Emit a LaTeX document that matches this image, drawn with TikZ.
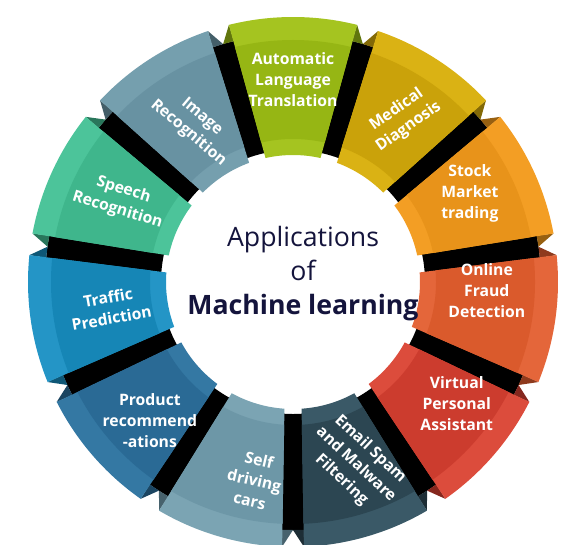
\documentclass[tikz,border=0pt]{standalone}
\usepackage{fontspec}
\setmainfont{Open Sans}
\usepackage{tikz}
\usetikzlibrary{positioning}

% tile colours: light rim / darker middle
\definecolor{autoL}{RGB}{165,196,32}
\definecolor{autoD}{RGB}{150,182,20}
\definecolor{medL}{RGB}{218,178,20}
\definecolor{medD}{RGB}{202,162,10}
\definecolor{stockL}{RGB}{243,158,36}
\definecolor{stockD}{RGB}{232,147,26}
\definecolor{fraudL}{RGB}{228,102,58}
\definecolor{fraudD}{RGB}{218,90,44}
\definecolor{virtL}{RGB}{220,76,60}
\definecolor{virtD}{RGB}{204,60,46}
\definecolor{mailL}{RGB}{58,89,103}
\definecolor{mailD}{RGB}{44,70,82}
\definecolor{selfL}{RGB}{123,164,179}
\definecolor{selfD}{RGB}{109,151,167}
\definecolor{prodL}{RGB}{52,120,163}
\definecolor{prodD}{RGB}{42,106,149}
\definecolor{trafL}{RGB}{36,149,198}
\definecolor{trafD}{RGB}{22,134,182}
\definecolor{speechL}{RGB}{76,196,154}
\definecolor{speechD}{RGB}{63,182,140}
\definecolor{imgL}{RGB}{117,159,174}
\definecolor{imgD}{RGB}{104,146,162}
\definecolor{navy}{RGB}{20,20,60}

\begin{document}
\begin{tikzpicture}[
    x=0.75pt, y=0.75pt,
    segtext/.style={text=white, align=center, inner sep=1pt, font=\bfseries\fontsize{11.8}{15.8}\selectfont},
    title/.style={text=navy, align=center, font=\fontsize{20}{25.5}\selectfont},
]
    \useasboundingbox (0,0) rectangle (580,544);
    \begin{scope}[shift={(293,262)}]
    % black ribbon behind the tiles
    \fill[black, even odd rule] (0,0) circle[radius=248] (0,0) circle[radius=132];
    % tiles
    \foreach \ang/\lt/\dk in {90/autoL/autoD, 57.27/medL/medD, 24.55/stockL/stockD,
        -8.18/fraudL/fraudD, -40.91/virtL/virtD, -73.64/mailL/mailD,
        -106.36/selfL/selfD, -139.09/prodL/prodD, -171.82/trafL/trafD,
        155.45/speechL/speechD, 122.73/imgL/imgD}{
        \fill[\dk!65!black] (\ang+14:265) -- (\ang+13.8:248) -- (\ang+16.36:248) -- cycle;
        \fill[\dk!65!black] (\ang-14:265) -- (\ang-13.8:248) -- (\ang-16.36:248) -- cycle;
        \begin{scope}
            \path[clip] (\ang-12.5:127) arc[start angle=\ang-12.5, end angle=\ang+12.5, radius=127]
                -- (\ang+14:265) arc[start angle=\ang+14, end angle=\ang-14, radius=265] -- cycle;
            \fill[\lt] (0,0) circle[radius=270];
            \fill[\dk, even odd rule] (0,0) circle[radius=242] (0,0) circle[radius=143];
        \end{scope}
    }
    % labels
    \foreach \ta/\tr/\rot/\nm/\txt in {
        90/202/0/auto/{Automatic\\Language\\Translation},
        56.2/197/35/medical/{Medical\\Diagnosis},
        26.7/198/0/stock/{Stock\\Market\\trading},
        -2.5/194/0/fraud/{Online\\Fraud\\Detection},
        -36.6/204/0/virtual/{Virtual\\Personal\\Assistant},
        -71/193/-43/email/{Email Spam\\and Malware\\Filtering},
        -101/202/-13/selfcar/{Self\\driving\\cars},
        -136/199/0/product/{Product\\recommend\\-ations},
        -172/185/10/traffic/{Traffic\\Prediction},
        154.6/191/-17/speech/{Speech\\Recognition},
        122/185/-40/image/{Image\\Recognition}}{
        \node[segtext, rotate=\rot] (\nm) at (\ta:\tr) {\txt};
    }
    \end{scope}
    \node[title] (centre) at (303,270) {Applications\\of\\\textbf{Machine learning}};
\end{tikzpicture}
\end{document}
